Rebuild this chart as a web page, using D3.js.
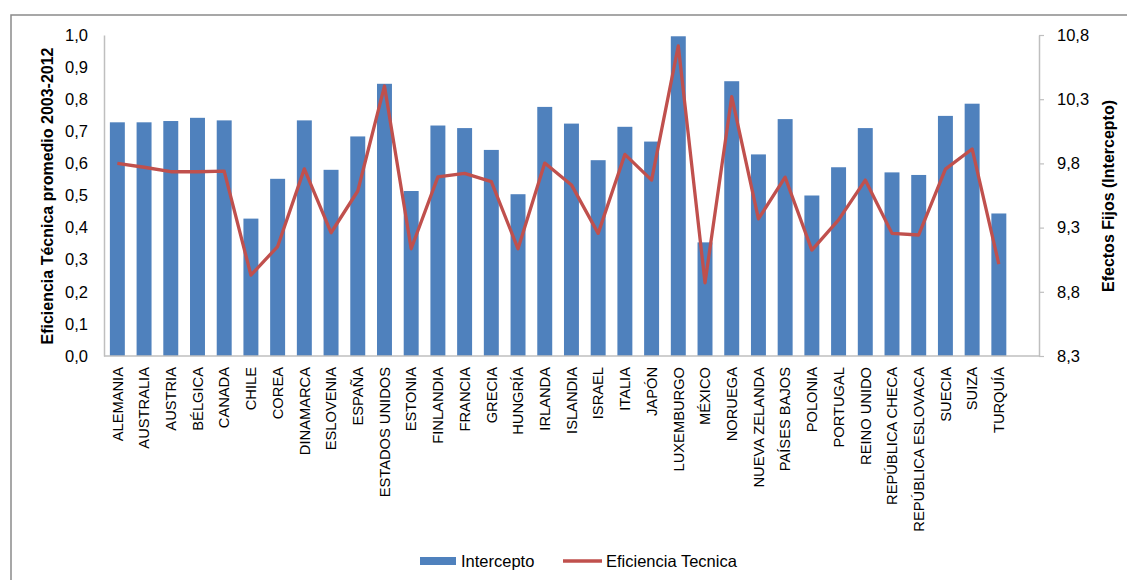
<!DOCTYPE html>
<html>
<head>
<meta charset="utf-8">
<script src="https://cdn.jsdelivr.net/npm/d3@7"></script>
<style>
  html, body { margin: 0; padding: 0; background: #fff; }
  svg { display: block; }
  text { font-family: "Liberation Sans", Arial, sans-serif; fill: #000; }
</style>
</head>
<body>
<svg id="chart" width="1127" height="580"></svg>
<script>
// ---- Data ----
const categories = ["ALEMANIA","AUSTRALIA","AUSTRIA","BÉLGICA","CANADA","CHILE","COREA","DINAMARCA","ESLOVENIA","ESPAÑA","ESTADOS UNIDOS","ESTONIA","FINLANDIA","FRANCIA","GRECIA","HUNGRÍA","IRLANDA","ISLANDIA","ISRAEL","ITALIA","JAPÓN","LUXEMBURGO","MÉXICO","NORUEGA","NUEVA ZELANDA","PAÍSES BAJOS","POLONIA","PORTUGAL","REINO UNIDO","REPÚBLICA CHECA","REPÚBLICA ESLOVACA","SUECIA","SUIZA","TURQUÍA"];
const intercepto = [10.12,10.12,10.13,10.155,10.135,9.37,9.68,10.135,9.75,10.01,10.42,9.585,10.095,10.075,9.905,9.56,10.24,10.11,9.825,10.085,9.97,10.79,9.185,10.44,9.87,10.145,9.55,9.77,10.075,9.73,9.71,10.17,10.265,9.41];
const eficiencia = [0.600,0.588,0.574,0.574,0.576,0.252,0.341,0.583,0.384,0.514,0.841,0.334,0.558,0.569,0.543,0.334,0.601,0.533,0.382,0.628,0.548,0.966,0.228,0.808,0.427,0.557,0.330,0.424,0.548,0.382,0.377,0.582,0.645,0.286];
const leftTicks = [0,0.1,0.2,0.3,0.4,0.5,0.6,0.7,0.8,0.9,1.0];
const rightTicks = [8.3,8.8,9.3,9.8,10.3,10.8];
const seriesNames = ["Intercepto","Eficiencia Tecnica"];

// ---- Layout ----
const svg = d3.select("#chart");
const plotLeft = 104, plotRight = 1039, plotTop = 35, plotBottom = 356;
const fmt = d => d3.format(".1f")(d).replace(".", ",");

// frame
svg.append("rect").attr("x", 11).attr("y", 15).attr("width", 1300).attr("height", 800)
  .attr("fill", "none").attr("stroke", "#8a8a8a").attr("stroke-width", 1.5);

const x = d3.scaleBand().domain(categories).range([plotLeft, 1012.2])
  .paddingInner(0.44).paddingOuter(0.22);
const yL = d3.scaleLinear().domain([0, 1]).range([plotBottom, plotTop]);
const yR = d3.scaleLinear().domain([8.3, 10.8]).range([plotBottom, plotTop]);

// bars (Intercepto on right axis)
svg.append("g").selectAll("rect").data(categories).join("rect")
  .attr("x", d => x(d))
  .attr("width", x.bandwidth())
  .attr("y", (d, i) => yR(intercepto[i]))
  .attr("height", (d, i) => yR(8.3) - yR(intercepto[i]))
  .attr("fill", "#4f81bd");

// left axis
const gL = svg.append("g").attr("transform", `translate(${plotLeft},0)`)
  .call(d3.axisLeft(yL).tickValues(leftTicks).tickFormat(fmt).tickSize(0).tickPadding(16));
gL.select(".domain").attr("stroke", "#bfbfbf").attr("stroke-width", 1.5);
gL.selectAll("text").style("font-size", "16.5px").style("font-family", "'Liberation Sans', Arial, sans-serif").attr("fill", "#000");

// right axis
const gR = svg.append("g").attr("transform", `translate(${plotRight},0)`)
  .call(d3.axisRight(yR).tickValues(rightTicks).tickFormat(fmt).tickSize(5).tickSizeOuter(0).tickPadding(13));
gR.select(".domain").attr("stroke", "#bfbfbf").attr("stroke-width", 1.5);
gR.selectAll(".tick line").attr("stroke", "#bfbfbf").attr("stroke-width", 1.2);
gR.selectAll("text").style("font-size", "16.5px").style("font-family", "'Liberation Sans', Arial, sans-serif").attr("fill", "#000");

// x axis baseline
svg.append("line").attr("x1", plotLeft).attr("x2", plotRight)
  .attr("y1", plotBottom).attr("y2", plotBottom)
  .attr("stroke", "#bfbfbf").attr("stroke-width", 1.5);

// category labels
svg.append("g").selectAll("text").data(categories).join("text")
  .attr("transform", d => `translate(${x(d) + x.bandwidth() / 2},367) rotate(-90)`)
  .attr("text-anchor", "end")
  .attr("dy", "0.36em")
  .style("font-size", "14.7px")
  .text(d => d);

// line (Eficiencia on left axis)
const line = d3.line()
  .x((d, i) => x(categories[i]) + x.bandwidth() / 2)
  .y(d => yL(d));
svg.append("path").datum(eficiencia)
  .attr("d", line)
  .attr("fill", "none")
  .attr("stroke", "#c0504d")
  .attr("stroke-width", 3.3)
  .attr("stroke-linejoin", "round");

// axis titles
svg.append("text")
  .attr("transform", "translate(53,196) rotate(-90)")
  .attr("text-anchor", "middle")
  .style("font-size", "16px").style("font-weight", "bold")
  .text("Eficiencia Técnica promedio 2003-2012");
svg.append("text")
  .attr("transform", "translate(1114,196) rotate(-90)")
  .attr("text-anchor", "middle")
  .style("font-size", "16px").style("font-weight", "bold")
  .text("Efectos Fijos (Intercepto)");

// legend
const lg = svg.append("g");
lg.append("rect").attr("x", 420).attr("y", 557).attr("width", 36).attr("height", 8).attr("fill", "#4f81bd");
lg.append("text").attr("x", 461).attr("y", 567).style("font-size", "16.5px").text(seriesNames[0]);
lg.append("line").attr("x1", 563).attr("x2", 602).attr("y1", 561).attr("y2", 561)
  .attr("stroke", "#c0504d").attr("stroke-width", 3.3);
lg.append("text").attr("x", 606).attr("y", 567).style("font-size", "16.5px").text(seriesNames[1]);
</script>
</body>
</html>
